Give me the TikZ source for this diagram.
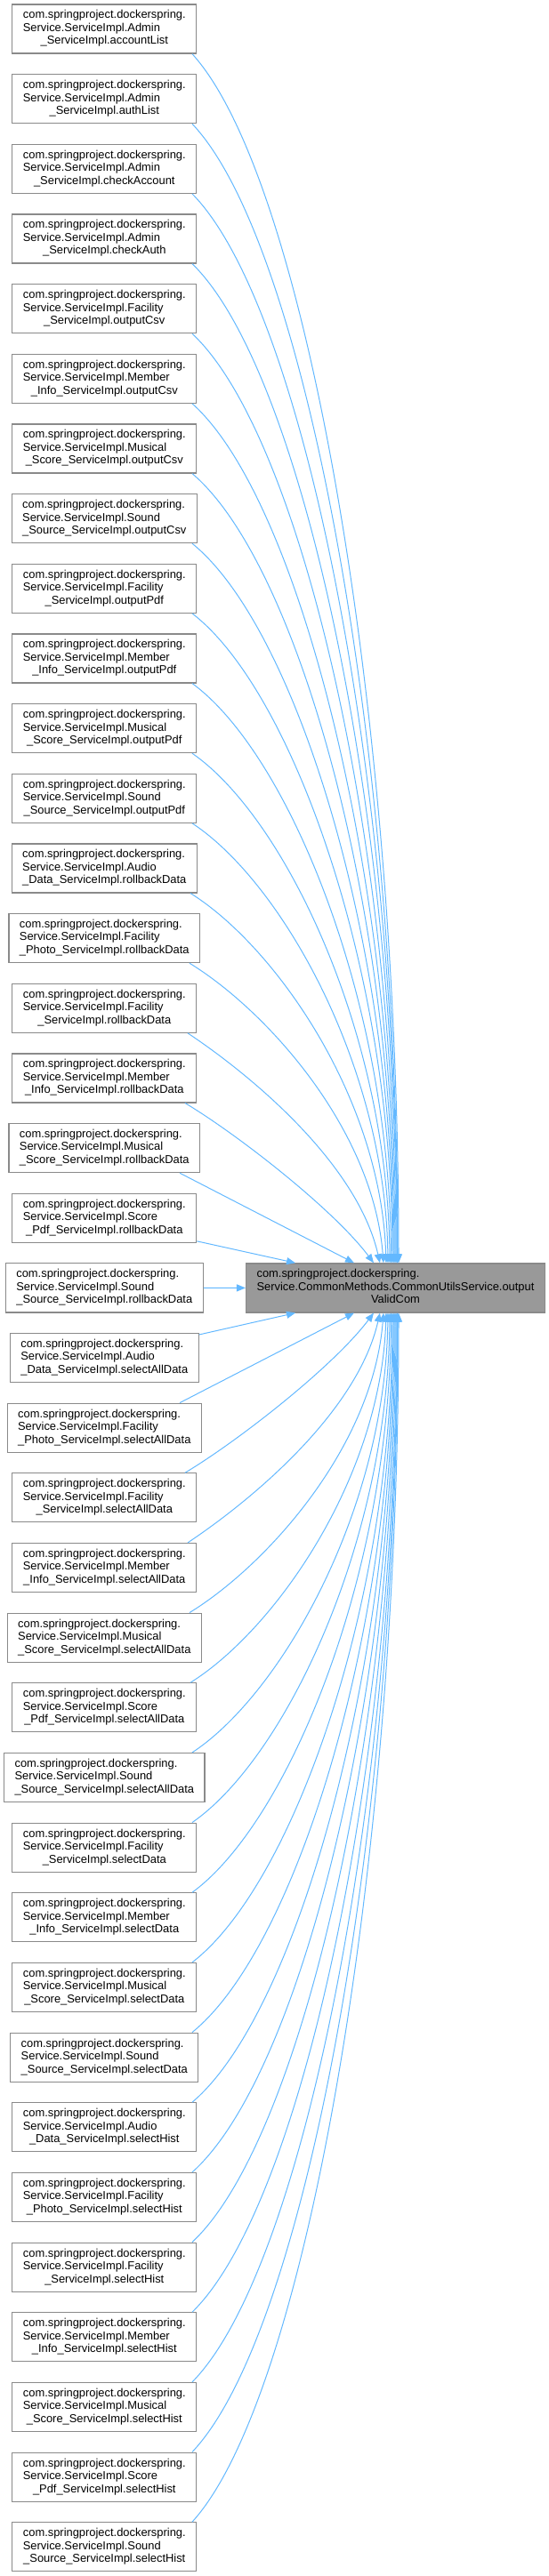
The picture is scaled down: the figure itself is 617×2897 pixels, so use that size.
\documentclass[tikz,border=0pt]{standalone}
\usepackage{fontspec}
\setmainfont{Liberation Sans}
\usetikzlibrary{arrows.meta}
\definecolor{boxgray}{HTML}{8A8A8A}
\definecolor{validgray}{HTML}{999999}
\definecolor{edgeblue}{HTML}{63B8FF}
\newcommand{\callername}[2]{\begin{tabular}{@{}l@{}}com.springproject.dockerspring.\\Service.ServiceImpl.#1\\\multicolumn{1}{@{}c@{}}{#2}\end{tabular}}
\tikzset{
  callerbox/.style={draw=boxgray, line width=1.2pt, fill=white, inner xsep=12pt, inner ysep=0pt,
    minimum height=55pt, font=\fontsize{12.9}{14.5}\selectfont},
  validbox/.style={callerbox, fill=validgray},
  calledge/.style={draw=edgeblue, line width=1pt, -{Triangle[length=10pt,width=8pt]}}
}
\begin{document}
\begin{tikzpicture}[x=1pt,y=1pt]
\useasboundingbox (0,0) rectangle (617,-2897);
\node[callerbox] (c1) at (117.3,-32.5) {\callername{Admin}{\_ServiceImpl.accountList}};
\node[callerbox] (c2) at (117.3,-111.16) {\callername{Admin}{\_ServiceImpl.authList}};
\node[callerbox] (c3) at (117.3,-189.82) {\callername{Admin}{\_ServiceImpl.checkAccount}};
\node[callerbox] (c4) at (117.3,-268.48) {\callername{Admin}{\_ServiceImpl.checkAuth}};
\node[callerbox] (c5) at (117.3,-347.14) {\callername{Facility}{\_ServiceImpl.outputCsv}};
\node[callerbox] (c6) at (117.3,-425.8) {\callername{Member}{\_Info\_ServiceImpl.outputCsv}};
\node[callerbox] (c7) at (117.3,-504.46) {\callername{Musical}{\_Score\_ServiceImpl.outputCsv}};
\node[callerbox] (c8) at (117.3,-583.12) {\callername{Sound}{\_Source\_ServiceImpl.outputCsv}};
\node[callerbox] (c9) at (117.3,-661.78) {\callername{Facility}{\_ServiceImpl.outputPdf}};
\node[callerbox] (c10) at (117.3,-740.44) {\callername{Member}{\_Info\_ServiceImpl.outputPdf}};
\node[callerbox] (c11) at (117.3,-819.1) {\callername{Musical}{\_Score\_ServiceImpl.outputPdf}};
\node[callerbox] (c12) at (117.3,-897.76) {\callername{Sound}{\_Source\_ServiceImpl.outputPdf}};
\node[callerbox] (c13) at (117.3,-976.42) {\callername{Audio}{\_Data\_ServiceImpl.rollbackData}};
\node[callerbox] (c14) at (117.3,-1055.08) {\callername{Facility}{\_Photo\_ServiceImpl.rollbackData}};
\node[callerbox] (c15) at (117.3,-1133.74) {\callername{Facility}{\_ServiceImpl.rollbackData}};
\node[callerbox] (c16) at (117.3,-1212.4) {\callername{Member}{\_Info\_ServiceImpl.rollbackData}};
\node[callerbox] (c17) at (117.3,-1291.06) {\callername{Musical}{\_Score\_ServiceImpl.rollbackData}};
\node[callerbox] (c18) at (117.3,-1369.72) {\callername{Score}{\_Pdf\_ServiceImpl.rollbackData}};
\node[callerbox] (c19) at (117.3,-1448.38) {\callername{Sound}{\_Source\_ServiceImpl.rollbackData}};
\node[callerbox] (c20) at (117.3,-1527.04) {\callername{Audio}{\_Data\_ServiceImpl.selectAllData}};
\node[callerbox] (c21) at (117.3,-1605.7) {\callername{Facility}{\_Photo\_ServiceImpl.selectAllData}};
\node[callerbox] (c22) at (117.3,-1684.36) {\callername{Facility}{\_ServiceImpl.selectAllData}};
\node[callerbox] (c23) at (117.3,-1763.02) {\callername{Member}{\_Info\_ServiceImpl.selectAllData}};
\node[callerbox] (c24) at (117.3,-1841.68) {\callername{Musical}{\_Score\_ServiceImpl.selectAllData}};
\node[callerbox] (c25) at (117.3,-1920.34) {\callername{Score}{\_Pdf\_ServiceImpl.selectAllData}};
\node[callerbox] (c26) at (117.3,-1999) {\callername{Sound}{\_Source\_ServiceImpl.selectAllData}};
\node[callerbox] (c27) at (117.3,-2077.66) {\callername{Facility}{\_ServiceImpl.selectData}};
\node[callerbox] (c28) at (117.3,-2156.32) {\callername{Member}{\_Info\_ServiceImpl.selectData}};
\node[callerbox] (c29) at (117.3,-2234.98) {\callername{Musical}{\_Score\_ServiceImpl.selectData}};
\node[callerbox] (c30) at (117.3,-2313.64) {\callername{Sound}{\_Source\_ServiceImpl.selectData}};
\node[callerbox] (c31) at (117.3,-2392.3) {\callername{Audio}{\_Data\_ServiceImpl.selectHist}};
\node[callerbox] (c32) at (117.3,-2470.96) {\callername{Facility}{\_Photo\_ServiceImpl.selectHist}};
\node[callerbox] (c33) at (117.3,-2549.62) {\callername{Facility}{\_ServiceImpl.selectHist}};
\node[callerbox] (c34) at (117.3,-2628.28) {\callername{Member}{\_Info\_ServiceImpl.selectHist}};
\node[callerbox] (c35) at (117.3,-2706.94) {\callername{Musical}{\_Score\_ServiceImpl.selectHist}};
\node[callerbox] (c36) at (117.3,-2785.6) {\callername{Score}{\_Pdf\_ServiceImpl.selectHist}};
\node[callerbox] (c37) at (117.3,-2864.26) {\callername{Sound}{\_Source\_ServiceImpl.selectHist}};
\node[validbox] (valid) at (444.5,-1448.4) {\begin{tabular}{@{}l@{}}com.springproject.dockerspring.\\Service.CommonMethods.CommonUtilsService.output\\\multicolumn{1}{@{}c@{}}{ValidCom}\end{tabular}};

\draw[calledge] ([xshift=98.7pt]c1.south) .. controls +(129,-142) and +(0,612) .. ([xshift=3.5pt]valid.north);
\draw[calledge] ([xshift=98.7pt]c2.south) .. controls +(128,-135) and +(0,577) .. ([xshift=2.5pt]valid.north);
\draw[calledge] ([xshift=98.7pt]c3.south) .. controls +(126,-128) and +(0,542) .. ([xshift=2pt]valid.north);
\draw[calledge] ([xshift=98.7pt]c4.south) .. controls +(124,-121) and +(0,506) .. ([xshift=1.5pt]valid.north);
\draw[calledge] ([xshift=98.7pt]c5.south) .. controls +(122,-114) and +(0,471) .. ([xshift=0.5pt]valid.north);
\draw[calledge] ([xshift=98.7pt]c6.south) .. controls +(120,-107) and +(0,435) .. ([xshift=-0.5pt]valid.north);
\draw[calledge] ([xshift=98.7pt]c7.south) .. controls +(118,-100) and +(0,400) .. ([xshift=-1.5pt]valid.north);
\draw[calledge] ([xshift=98.7pt]c8.south) .. controls +(115,-93) and +(0,365) .. ([xshift=-2.5pt]valid.north);
\draw[calledge] ([xshift=98.7pt]c9.south) .. controls +(112,-86) and +(0,329) .. ([xshift=-3.5pt]valid.north);
\draw[calledge] ([xshift=98.7pt]c10.south) .. controls +(108,-79) and +(-1,294) .. ([xshift=-5pt]valid.north);
\draw[calledge] ([xshift=98.7pt]c11.south) .. controls +(104,-72) and +(-2,258) .. ([xshift=-6.5pt]valid.north);
\draw[calledge] ([xshift=98.7pt]c12.south) .. controls +(99,-65) and +(-3,223) .. ([xshift=-8.5pt]valid.north);
\draw[calledge] ([xshift=96.7pt]c13.south) .. controls +(93,-58) and +(-6,188) .. ([xshift=-10.5pt]valid.north);
\draw[calledge] ([xshift=95.7pt]c14.south) .. controls +(85,-52) and +(-12,152) .. ([xshift=-13.5pt]valid.north);
\draw[calledge] ([xshift=93.7pt]c15.south) .. controls +(75,-50) and +(-25,110) .. ([xshift=-17.5pt]valid.north);
\draw[calledge] ([xshift=90.7pt]c16.south) .. controls +(60,-36) and +(-45,60) .. ([xshift=-24.5pt]valid.north);
\draw[calledge] ([xshift=84.7pt]c17.south) -- ([xshift=-46.5pt]valid.north);
\draw[calledge] ([yshift=2pt]c18.south east) -- ([xshift=-112.5pt]valid.north);
\draw[calledge] (c19.east) -- (valid.west);
\draw[calledge] ([yshift=-2pt]c20.north east) -- ([xshift=-112.5pt]valid.south);
\draw[calledge] ([xshift=84.7pt]c21.north) -- ([xshift=-46.5pt]valid.south);
\draw[calledge] ([xshift=90.7pt]c22.north) .. controls +(60,36) and +(-45,-60) .. ([xshift=-24.5pt]valid.south);
\draw[calledge] ([xshift=93.7pt]c23.north) .. controls +(75,50) and +(-25,-110) .. ([xshift=-17.5pt]valid.south);
\draw[calledge] ([xshift=95.7pt]c24.north) .. controls +(85,52) and +(-12,-152) .. ([xshift=-13.5pt]valid.south);
\draw[calledge] ([xshift=96.7pt]c25.north) .. controls +(93,58) and +(-6,-188) .. ([xshift=-10.5pt]valid.south);
\draw[calledge] ([xshift=98.7pt]c26.north) .. controls +(99,65) and +(-3,-223) .. ([xshift=-8.5pt]valid.south);
\draw[calledge] ([xshift=98.7pt]c27.north) .. controls +(104,72) and +(-2,-258) .. ([xshift=-6.5pt]valid.south);
\draw[calledge] ([xshift=98.7pt]c28.north) .. controls +(108,79) and +(-1,-294) .. ([xshift=-5pt]valid.south);
\draw[calledge] ([xshift=98.7pt]c29.north) .. controls +(112,86) and +(0,-329) .. ([xshift=-3.5pt]valid.south);
\draw[calledge] ([xshift=98.7pt]c30.north) .. controls +(115,93) and +(0,-365) .. ([xshift=-2.5pt]valid.south);
\draw[calledge] ([xshift=98.7pt]c31.north) .. controls +(118,100) and +(0,-400) .. ([xshift=-1.5pt]valid.south);
\draw[calledge] ([xshift=98.7pt]c32.north) .. controls +(120,107) and +(0,-435) .. ([xshift=-0.5pt]valid.south);
\draw[calledge] ([xshift=98.7pt]c33.north) .. controls +(122,114) and +(0,-471) .. ([xshift=0.5pt]valid.south);
\draw[calledge] ([xshift=98.7pt]c34.north) .. controls +(124,121) and +(0,-506) .. ([xshift=1.5pt]valid.south);
\draw[calledge] ([xshift=98.7pt]c35.north) .. controls +(126,128) and +(0,-542) .. ([xshift=2pt]valid.south);
\draw[calledge] ([xshift=98.7pt]c36.north) .. controls +(128,135) and +(0,-577) .. ([xshift=2.5pt]valid.south);
\draw[calledge] ([xshift=98.7pt]c37.north) .. controls +(129,142) and +(0,-612) .. ([xshift=3.5pt]valid.south);
\end{tikzpicture}
\end{document}
